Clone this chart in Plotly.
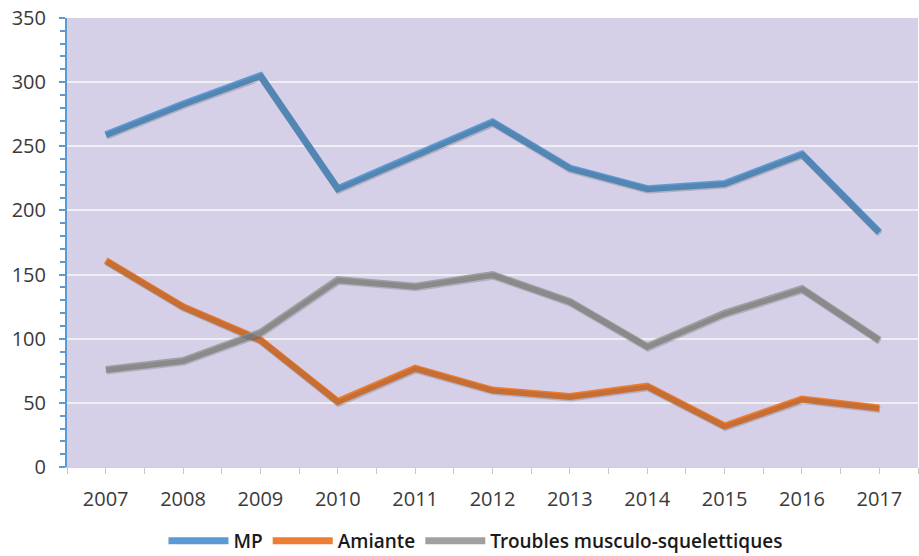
import plotly.graph_objects as go

years = ["2007", "2008", "2009", "2010", "2011", "2012", "2013", "2014", "2015", "2016", "2017"]
mp = [259, 283, 305, 217, 243, 269, 233, 217, 221, 244, 183]
amiante = [161, 125, 99, 51, 77, 60, 55, 63, 32, 53, 46]
tms = [76, 83, 105, 146, 141, 150, 129, 94, 120, 139, 99]
series_names = ["MP", "Amiante", "Troubles musculo-squelettiques"]
series_colors = ["#5B9BD5", "#ED7D31", "#A0A0A0"]
y_ticks = [0, 50, 100, 150, 200, 250, 300, 350]

xs = list(range(len(years)))
fig = go.Figure()

# soft drop shadows on a slightly shifted overlay axis
for vals in [mp, amiante, tms]:
    fig.add_trace(go.Scatter(x=xs, y=vals, mode="lines", xaxis="x2", yaxis="y2",
                             line=dict(color="rgba(60,60,60,0.22)", width=7),
                             showlegend=False, hoverinfo="skip"))

for name, vals, col in zip(series_names, [mp, amiante, tms], series_colors):
    fig.add_trace(go.Scatter(x=xs, y=vals, mode="lines", name=name,
                             line=dict(color=col, width=7)))

px_per_unit = 449 / 350.0
px_per_cat = 851 / 11.0
dy = 1.6 / px_per_unit
dx = 0.8 / px_per_cat

fig.update_layout(
    width=919, height=556,
    margin=dict(l=67, r=1, t=18, b=89, autoexpand=False),
    paper_bgcolor="white",
    plot_bgcolor="#D5D0E8",
    font=dict(family="Open Sans", size=20, color="#3a3a3a"),
    showlegend=True,
    legend=dict(orientation="h", x=0.48, xanchor="center", yref="container", y=0.027, yanchor="middle",
                font=dict(size=19, color="#1a1a1a", family="Open Sans SemiBold, Open Sans"),
                itemwidth=60, tracegroupgap=0),
    xaxis=dict(range=[-0.5, 10.5], tickvals=xs, ticktext=years, showgrid=False,
               zeroline=False, showline=True, linecolor="#D0D0D0", linewidth=1,
               ticks="outside", ticklen=6, tickcolor="#C8C8C8",
               minor=dict(dtick=0.5, tick0=-0.5, ticks="outside", ticklen=6, tickcolor="#C8C8C8"),
               ticklabelstandoff=8, ticklabeloverflow="allow", fixedrange=True),
    yaxis=dict(range=[0, 350], tickvals=y_ticks, showgrid=True, gridcolor="#EFEFEF", gridwidth=2,
               zeroline=False, showline=True, linecolor="#5B9BD5", linewidth=2,
               ticks="outside", ticklen=6, tickcolor="#5B9BD5", tickwidth=2,
               minor=dict(dtick=10, ticks="outside", ticklen=5, tickcolor="#5B9BD5", tickwidth=1.5),
               ticklabelstandoff=9, ticklabeloverflow="allow", fixedrange=True),
    xaxis2=dict(range=[-0.5 - dx, 10.5 - dx], overlaying="x", visible=False, fixedrange=True),
    yaxis2=dict(range=[dy, 350 + dy], overlaying="y", visible=False, fixedrange=True),
)

# remove the default page margin so the 919x556 figure fills the window exactly
fig.write_html("out.html", config={"displayModeBar": False},
               post_script="document.body.style.margin='0';document.body.style.overflow='hidden';")
